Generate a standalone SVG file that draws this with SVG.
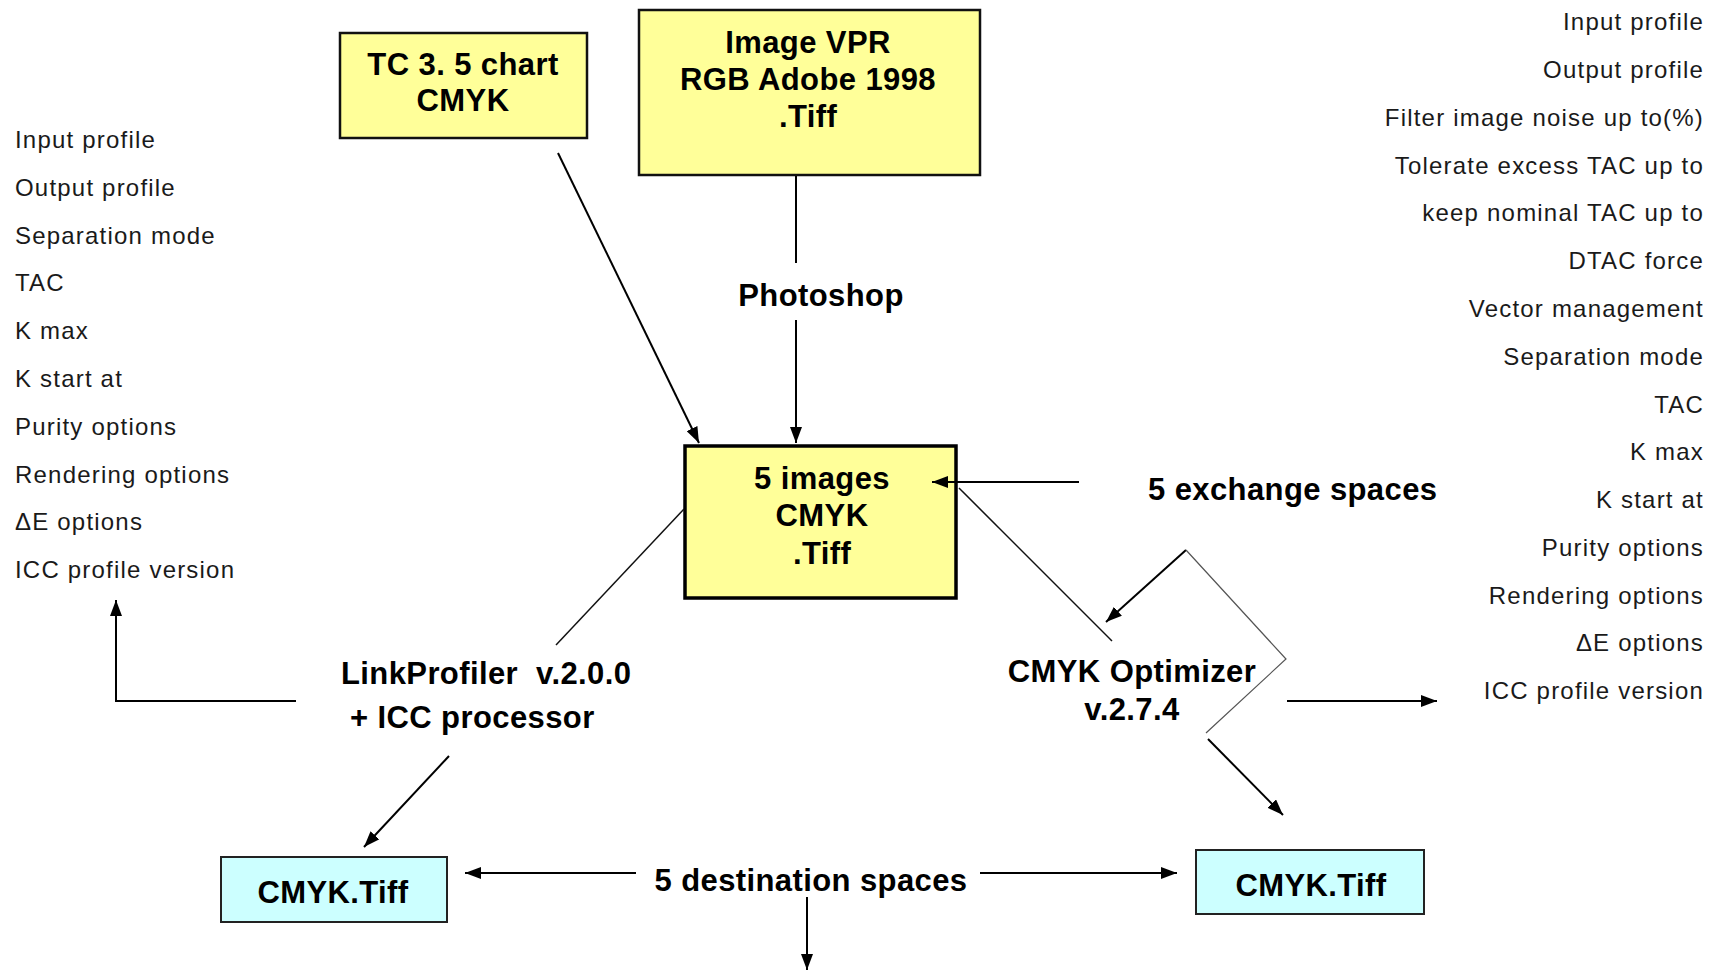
<svg xmlns="http://www.w3.org/2000/svg" width="1719" height="970" viewBox="0 0 1719 970">
<defs>
<marker id="ah" viewBox="0 0 16 12" refX="16" refY="6" markerWidth="16" markerHeight="12" orient="auto" markerUnits="userSpaceOnUse"><path d="M0,0 L16,6 L0,12 z" fill="#000"/></marker>
<style>
.b{font-family:"Liberation Sans",Arial,sans-serif;font-weight:bold;font-size:31px;letter-spacing:0.4px;fill:#000}
.r{font-family:"Liberation Sans",Arial,sans-serif;font-size:24px;letter-spacing:1.2px;fill:#1a1a1a}
.ye{fill:#FFFF99;stroke:#111;stroke-width:2.5}
.cy{fill:#CCFFFF;stroke:#222;stroke-width:2}
.c{stroke:#000;stroke-width:2;fill:none}
.t{stroke:#111;stroke-width:1.5;fill:none}
.g{stroke:#555;stroke-width:1.2;fill:none}
</style>
</defs>
<rect width="1719" height="970" fill="#fff"/>

<g id="tc-chart">
<rect class="ye" x="340" y="33" width="247" height="105"/>
<text class="b" x="463" y="75" text-anchor="middle">TC 3. 5 chart</text>
<text class="b" x="463" y="111" text-anchor="middle">CMYK</text>
</g>

<g id="image-vpr">
<rect class="ye" x="639" y="10" width="341" height="165"/>
<text class="b" x="808" y="53" text-anchor="middle">Image VPR</text>
<text class="b" x="808" y="90" text-anchor="middle">RGB Adobe 1998</text>
<text class="b" x="808" y="127" text-anchor="middle">.Tiff</text>
</g>

<g id="photoshop">
<text class="b" x="821" y="306" text-anchor="middle">Photoshop</text>
</g>

<g id="five-images">
<rect x="685" y="446" width="271" height="152" fill="#FFFF99" stroke="#000" stroke-width="3.5"/>
<text class="b" x="822" y="489" text-anchor="middle">5 images</text>
<text class="b" x="822" y="526" text-anchor="middle">CMYK</text>
<text class="b" x="822" y="564" text-anchor="middle">.Tiff</text>
</g>

<g id="exchange-spaces">
<text class="b" x="1148" y="500">5 exchange spaces</text>
</g>

<g id="linkprofiler">
<text class="b" x="341" y="684" xml:space="preserve">LinkProfiler  v.2.0.0</text>
<text class="b" x="350" y="728">+ ICC processor</text>
</g>

<g id="cmyk-optimizer">
<text class="b" x="1132" y="682" text-anchor="middle">CMYK Optimizer</text>
<text class="b" x="1132" y="720" text-anchor="middle">v.2.7.4</text>
</g>

<g id="cmyk-tiff-left">
<rect class="cy" x="221" y="857" width="226" height="65"/>
<text class="b" x="333" y="903" text-anchor="middle">CMYK.Tiff</text>
</g>

<g id="cmyk-tiff-right">
<rect class="cy" x="1196" y="850" width="228" height="64"/>
<text class="b" x="1311" y="896" text-anchor="middle">CMYK.Tiff</text>
</g>

<g id="destination-spaces">
<text class="b" x="811" y="891" text-anchor="middle">5 destination spaces</text>
</g>

<g id="left-options">
<text class="r" x="15" y="148">Input profile</text>
<text class="r" x="15" y="196">Output profile</text>
<text class="r" x="15" y="244">Separation mode</text>
<text class="r" x="15" y="291">TAC</text>
<text class="r" x="15" y="339">K max</text>
<text class="r" x="15" y="387">K start at</text>
<text class="r" x="15" y="435">Purity options</text>
<text class="r" x="15" y="483">Rendering options</text>
<text class="r" x="15" y="530">ΔE options</text>
<text class="r" x="15" y="578">ICC profile version</text>
</g>

<g id="right-options">
<text class="r" x="1704" y="30" text-anchor="end">Input profile</text>
<text class="r" x="1704" y="78" text-anchor="end">Output profile</text>
<text class="r" x="1704" y="126" text-anchor="end">Filter image noise up to(%)</text>
<text class="r" x="1704" y="174" text-anchor="end">Tolerate excess TAC up to</text>
<text class="r" x="1704" y="221" text-anchor="end">keep nominal TAC up to</text>
<text class="r" x="1704" y="269" text-anchor="end">DTAC force</text>
<text class="r" x="1704" y="317" text-anchor="end">Vector management</text>
<text class="r" x="1704" y="365" text-anchor="end">Separation mode</text>
<text class="r" x="1704" y="413" text-anchor="end">TAC</text>
<text class="r" x="1704" y="460" text-anchor="end">K max</text>
<text class="r" x="1704" y="508" text-anchor="end">K start at</text>
<text class="r" x="1704" y="556" text-anchor="end">Purity options</text>
<text class="r" x="1704" y="604" text-anchor="end">Rendering options</text>
<text class="r" x="1704" y="651" text-anchor="end">ΔE options</text>
<text class="r" x="1704" y="699" text-anchor="end">ICC profile version</text>
</g>

<g id="connectors">
<line class="c" x1="558" y1="153" x2="699" y2="443" marker-end="url(#ah)"/>
<line class="c" x1="796" y1="176" x2="796" y2="263"/>
<line class="c" x1="796" y1="320" x2="796" y2="443" marker-end="url(#ah)"/>
<line class="c" x1="1079" y1="482" x2="932" y2="482" marker-end="url(#ah)"/>
<line class="t" x1="684" y1="509" x2="556" y2="645"/>
<line class="t" x1="959" y1="488" x2="1112" y2="641"/>
<polyline class="c" points="296,701 116,701 116,600" marker-end="url(#ah)"/>
<line class="c" x1="449" y1="756" x2="364" y2="847" marker-end="url(#ah)"/>
<line class="c" x1="1186" y1="550" x2="1106" y2="622" marker-end="url(#ah)"/>
<polyline class="g" points="1186,550 1286,659 1206,733"/>
<line class="c" x1="1208" y1="739" x2="1283" y2="815" marker-end="url(#ah)"/>
<line class="c" x1="1287" y1="701" x2="1437" y2="701" marker-end="url(#ah)"/>
<line class="c" x1="636" y1="873" x2="465" y2="873" marker-end="url(#ah)"/>
<line class="c" x1="980" y1="873" x2="1177" y2="873" marker-end="url(#ah)"/>
<line class="c" x1="807" y1="897" x2="807" y2="970" marker-end="url(#ah)"/>
</g>
</svg>
